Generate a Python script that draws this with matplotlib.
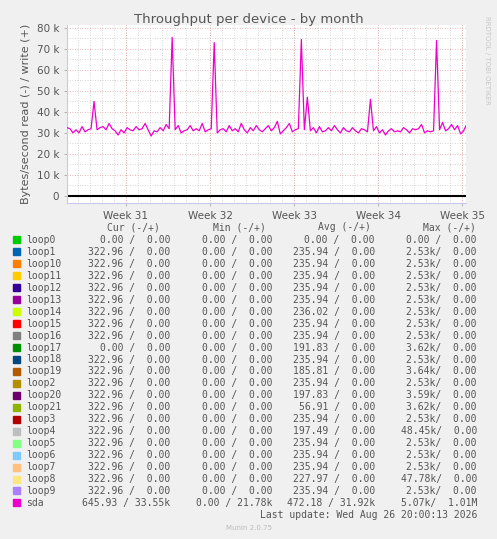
import numpy as np
import matplotlib.pyplot as plt

# sda write throughput (k bytes/s), one sample every 6 h, starting 4.9 days before Week 31
sda_k = [32.5, 32.0, 30.0, 31.5, 30.0, 33.0, 30.5, 31.5, 32.0, 45.0,
         31.5, 32.5, 33.0, 31.5, 34.5, 32.0, 31.0, 29.0, 31.5, 30.0,
         32.5, 31.5, 31.0, 33.0, 31.5, 32.0, 34.5, 31.5, 28.5, 31.0,
         30.5, 32.5, 31.0, 34.0, 32.0, 75.5, 31.5, 33.5, 30.0, 31.0,
         31.5, 33.5, 31.0, 32.0, 31.0, 34.5, 30.5, 31.5, 32.0, 73.0,
         30.0, 31.5, 32.0, 30.5, 33.5, 31.0, 32.0, 30.5, 34.5, 31.5,
         30.0, 32.5, 31.0, 33.5, 31.5, 30.5, 32.0, 33.5, 31.0, 32.5,
         35.5, 29.5, 31.0, 32.5, 34.5, 30.5, 31.5, 32.0, 74.5, 31.5,
         47.0, 31.0, 32.5, 30.0, 33.0, 30.5, 31.0, 32.5, 31.0, 33.5,
         31.5, 30.0, 32.5, 31.0, 30.5, 32.5, 31.0, 30.0, 32.0, 31.5,
         30.5, 46.0, 31.0, 33.0, 30.0, 31.5, 29.0, 31.0, 32.0, 30.5,
         31.0, 30.5, 32.5, 31.5, 30.0, 32.0, 31.5, 32.0, 34.0, 30.0,
         31.0, 30.5, 31.0, 74.0, 31.5, 35.0, 31.0, 32.0, 34.0, 31.5,
         33.5, 29.5, 31.0, 34.0]
step_days = 0.25
start_day = -4.9

names = ["loop0", "loop1", "loop10", "loop11", "loop12", "loop13", "loop14", "loop15",
         "loop16", "loop17", "loop18", "loop19", "loop2", "loop20", "loop21", "loop3",
         "loop4", "loop5", "loop6", "loop7", "loop8", "loop9", "sda"]
colors = ["#00CC00", "#0066B3", "#FF8000", "#FFCC00", "#330099", "#990099", "#CCFF00",
          "#FF0000", "#808080", "#008F00", "#00487D", "#B35A00", "#B38F00", "#6B006B",
          "#8FB300", "#B30000", "#BEBEBE", "#80FF80", "#80C9FF", "#FFC080", "#FFE680",
          "#AA80FF", "#EE00CC"]
cur = ["0.00 /  0.00"] + ["322.96 /  0.00"] * 8 + ["0.00 /  0.00"] + ["322.96 /  0.00"] * 12 + ["645.93 / 33.55k"]
mins = ["0.00 /  0.00"] * 22 + ["0.00 / 21.78k"]
avgs = ["0.00 /  0.00", "235.94 /  0.00", "235.94 /  0.00", "235.94 /  0.00", "235.94 /  0.00",
        "235.94 /  0.00", "236.02 /  0.00", "235.94 /  0.00", "235.94 /  0.00", "191.83 /  0.00",
        "235.94 /  0.00", "185.81 /  0.00", "235.94 /  0.00", "197.83 /  0.00", "56.91 /  0.00",
        "235.94 /  0.00", "197.49 /  0.00", "235.94 /  0.00", "235.94 /  0.00", "235.94 /  0.00",
        "227.97 /  0.00", "235.94 /  0.00", "472.18 / 31.92k"]
maxs = ["0.00 /  0.00", "2.53k/  0.00", "2.53k/  0.00", "2.53k/  0.00", "2.53k/  0.00",
        "2.53k/  0.00", "2.53k/  0.00", "2.53k/  0.00", "2.53k/  0.00", "3.62k/  0.00",
        "2.53k/  0.00", "3.64k/  0.00", "2.53k/  0.00", "3.59k/  0.00", "3.62k/  0.00",
        "2.53k/  0.00", "48.45k/  0.00", "2.53k/  0.00", "2.53k/  0.00", "2.53k/  0.00",
        "47.78k/  0.00", "2.53k/  0.00", "5.07k/  1.01M"]
week_labels = ["Week 31", "Week 32", "Week 33", "Week 34", "Week 35"]

W, H = 497, 539
fig = plt.figure(figsize=(W / 100, H / 100), dpi=100, facecolor="#F0F0F0")
ax = fig.add_axes([67 / W, 1 - 203 / H, 399 / W, 178 / H], facecolor="white")

days = start_day + step_days * np.arange(len(sda_k))
x0, x1 = -4.9, 28.3
ax.set_xlim(x0, x1)
ax.set_ylim(-3.4, 81.4)

# grid
for d in np.arange(-4, 29, 1):
    ax.axvline(d, color="#C8C8C8", lw=0.6, ls=(0, (1, 2)), zorder=0)
for d in np.arange(0, 29, 7):
    ax.axvline(d, color="#E8A0A0", lw=0.6, ls=(0, (1, 2)), zorder=0)
for v in np.arange(5, 81, 10):
    ax.axhline(v, color="#C8C8C8", lw=0.6, ls=(0, (1, 2)), zorder=0)
for v in np.arange(0, 81, 10):
    ax.axhline(v, color="#E8A0A0", lw=0.6, ls=(0, (1, 2)), zorder=0)

ax.plot([x0, x1], [0, 0], color="black", lw=1.5, zorder=2)
ax.plot(days, sda_k, color=colors[-1], lw=0.9, zorder=3)

ax.set_xticks(np.arange(0, 29, 7))
ax.set_xticklabels(week_labels)
ax.set_yticks(np.arange(0, 81, 10))
ax.set_yticklabels(["0"] + [f"{v} k" for v in range(10, 81, 10)])
ax.tick_params(colors="#555555", labelsize=7.5, length=2, width=0.6)
ax.tick_params(axis="x", colors="#AAAAAA", labelcolor="#555555")
ax.tick_params(axis="y", colors="#AAAAAA", labelcolor="#555555")
for s in ["top", "right"]:
    ax.spines[s].set_visible(False)
for s in ["left", "bottom"]:
    ax.spines[s].set_color("#C8C8F0")
ax.set_ylabel("Bytes/second read (-) / write (+)", color="#555555", fontsize=8)

fig.text(0.5, 1 - 19 / H, "Throughput per device - by month", ha="center", va="center",
         color="#555555", fontsize=9.5)
fig.text(487 / W, 1 - 60 / H, "RRDTOOL / TOBI OETIKER", rotation=270, ha="center", va="center",
         color="#C8C8C8", fontsize=5)

mono = "DejaVu Sans Mono"
fs = 7
tc = "#555555"
def fy(py):
    return 1 - py / H

for txt, xr in [("Cur (-/+)", 160), ("Min (-/+)", 266), ("Avg (-/+)", 371), ("Max (-/+)", 476)]:
    fig.text(xr / W, fy(227), txt, ha="right", va="center", family=mono, fontsize=fs, color=tc)
for i, n in enumerate(names):
    y = fy(240 + i * 11.95)
    fig.patches.append(plt.Rectangle((13 / W, y - 3.5 / H), 7 / W, 7 / H, color=colors[i],
                                     transform=fig.transFigure, figure=fig))
    fig.text(26 / W, y, n, ha="left", va="center", family=mono, fontsize=fs, color=tc)
    fig.text(170 / W, y, cur[i], ha="right", va="center", family=mono, fontsize=fs, color=tc)
    fig.text(272 / W, y, mins[i], ha="right", va="center", family=mono, fontsize=fs, color=tc)
    fig.text(375 / W, y, avgs[i], ha="right", va="center", family=mono, fontsize=fs, color=tc)
    fig.text(477 / W, y, maxs[i], ha="right", va="center", family=mono, fontsize=fs, color=tc)
fig.text(477 / W, fy(515), "Last update: Wed Aug 26 20:00:13 2026", ha="right", va="center",
         family=mono, fontsize=fs, color=tc)
fig.text(0.5, fy(528), "Munin 2.0.75", ha="center", va="center", fontsize=5, color="#BBBBBB")

fig.savefig("out.png", dpi=100, facecolor=fig.get_facecolor())
